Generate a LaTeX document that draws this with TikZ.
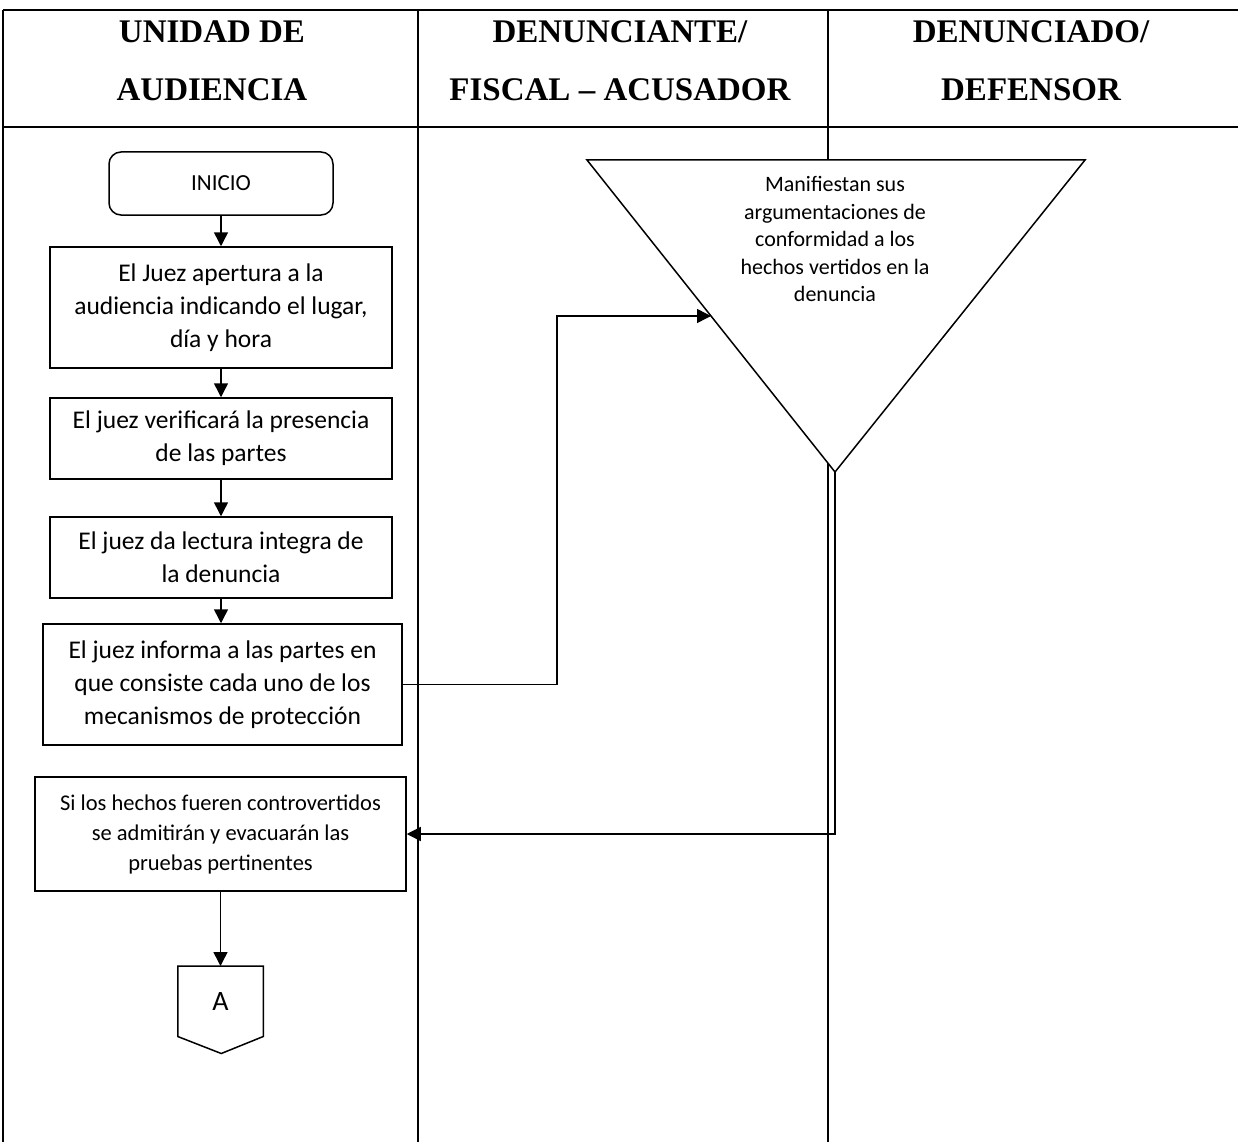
\documentclass[tikz,border=0pt]{standalone}
\usepackage{fontspec}
\setmainfont{Carlito}
\newfontfamily\headfont{Liberation Serif}
\usetikzlibrary{arrows.meta,positioning}

\tikzset{
  lane/.style={line width=1.5pt},
  headtext/.style={font=\headfont\bfseries\fontsize{33}{40}\selectfont},
  proc/.style={draw, line width=1.5pt, fill=white, align=center,
    font=\fontsize{25.5}{33}\selectfont},
  smallproc/.style={proc, font=\fontsize{22.5}{30}\selectfont},
  startbox/.style={proc, rounded corners=12pt, font=\fontsize{23}{26}\selectfont},
}

\begin{document}
\begin{tikzpicture}[x=1pt, y=-1pt, ->, >={Triangle[length=14pt,width=14pt]}, line width=1.5pt]
  \useasboundingbox (0,0) rectangle (1238,1142);

  % swimlanes
  \draw[-, line width=2.5pt] (3,10) -- (1238,10);
  \draw[-, line width=2.5pt] (3,127) -- (1238,127);
  \draw[-, lane] (3,10) -- (3,1142);
  \draw[-, lane] (418,10) -- (418,1142);
  \draw[-, lane] (828,10) -- (828,1142);

  \node[headtext] (u1) at (212,32) {UNIDAD DE};
  \node[headtext] (u2) at (212,90) {AUDIENCIA};
  \node[headtext] (d1) at (620,32) {DENUNCIANTE/};
  \node[headtext] (d2) at (620,90) {FISCAL – ACUSADOR};
  \node[headtext] (e1) at (1031,32) {DENUNCIADO/};
  \node[headtext] (e2) at (1031,90) {DEFENSOR};

  % unidad de audiencia
  \node[startbox, minimum width=224, minimum height=63] (inicio) at (221,183.5) {INICIO};
  \node[proc, minimum width=342, minimum height=121] (apertura) at (221,307.5)
    {El Juez apertura a la\\audiencia indicando el lugar,\\día y hora};
  \node[proc, minimum width=342, minimum height=81] (verifica) at (221,438.5)
    {El juez verificará la presencia\\de las partes};
  \node[proc, minimum width=342, minimum height=81] (lectura) at (221,557.5)
    {El juez da lectura integra de\\la denuncia};
  \node[proc, minimum width=359, minimum height=121] (informa) at (222.5,684.5)
    {El juez informa a las partes en\\que consiste cada uno de los\\mecanismos de protección};
  \node[smallproc, minimum width=371, minimum height=114] (pruebas) at (220.5,834)
    {Si los hechos fueren controvertidos\\se admitirán y evacuarán las\\pruebas pertinentes};
  \node[minimum width=84, minimum height=69, anchor=north, inner sep=0pt,
    font=\fontsize{28}{30}\selectfont] (conA) at (220.5,966) {A};
  \draw[-] (conA.north west) -- (conA.north east) -- (conA.south east)
    -- ++(-42,17) -- (conA.south west) -- cycle;

  % denunciado / defensor
  \coordinate (triL) at (587,160);
  \coordinate (triR) at (1085,160);
  \coordinate (triB) at (835,472);
  \coordinate (triIn) at (711,316);
  \filldraw[-, fill=white] (triL) -- (triR) -- (triB) -- cycle;
  \node[align=center, font=\fontsize{22}{27.5}\selectfont] (manif) at (835,239)
    {Manifiestan sus\\argumentaciones de\\conformidad a los\\hechos vertidos en la\\denuncia};

  \draw (inicio) -- (apertura);
  \draw (apertura) -- (verifica);
  \draw (verifica) -- (lectura);
  \draw (lectura.south) -- (lectura.south |- informa.north);
  \draw (informa.east) -- ++(154,0) |- (triIn);
  \draw (triB) -- (triB |- pruebas.east) -- (pruebas.east);
  \draw (pruebas) -- (conA);
\end{tikzpicture}
\end{document}
